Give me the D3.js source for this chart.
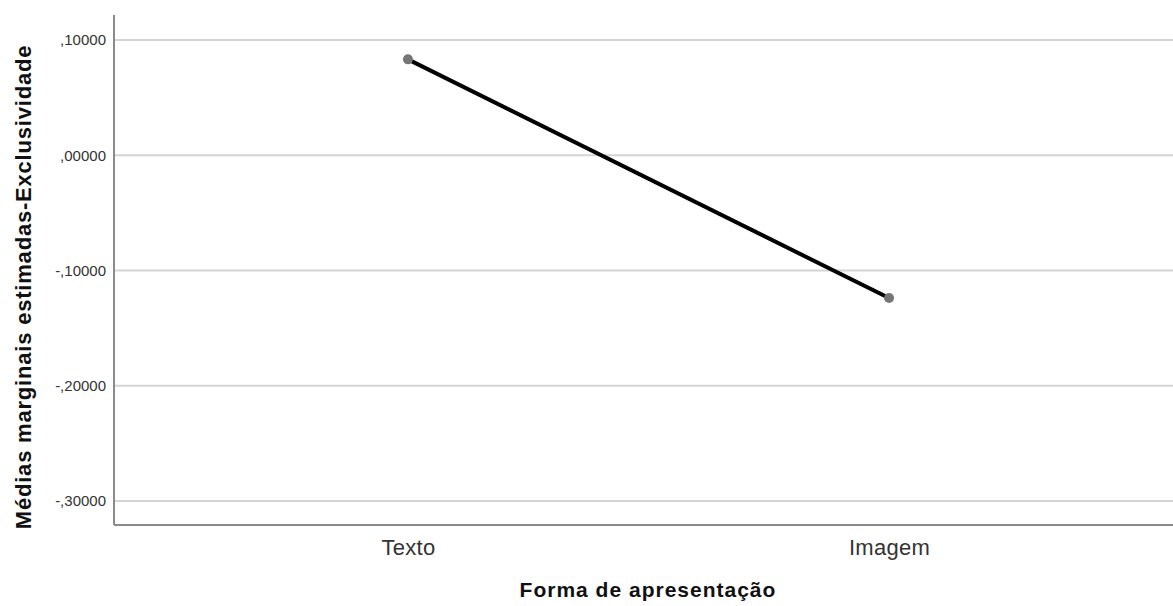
<!DOCTYPE html>
<html>
<head>
<meta charset="utf-8">
<script src="https://cdn.jsdelivr.net/npm/d3@7"></script>
<style>
  body { margin: 0; background: #fff; }
  text { font-family: "Liberation Sans", Arial, sans-serif; }
</style>
</head>
<body>
<div id="chart"></div>
<script>
// estimated marginal means
var categories = ["Texto", "Imagem"];
var means = [0.0832, -0.1239];
var yTicks = [0.1, 0.0, -0.1, -0.2, -0.3];

var width = 1173, height = 606;
var margin = { top: 15, right: -10, bottom: 81, left: 114 };
var plotW = width - margin.left - margin.right,
    plotH = height - margin.top - margin.bottom;

var svg = d3.select("#chart").append("svg")
  .attr("width", width)
  .attr("height", height);

var g = svg.append("g")
  .attr("transform", "translate(" + margin.left + "," + margin.top + ")");

var x = d3.scalePoint()
  .domain(categories)
  .range([0, plotW])
  .padding(0.611);

var y = d3.scaleLinear()
  .domain([-0.3208, 0.1217])
  .range([plotH, 0]);

function fmt(v) {
  var s = d3.format(".5f")(Math.abs(v)).replace("0.", ",");
  return (v < -1e-9 ? "-" : "") + s;
}

// gridlines
g.selectAll(".grid")
  .data(yTicks)
  .enter().append("line")
  .attr("x1", 0)
  .attr("x2", plotW)
  .attr("y1", function(d) { return y(d); })
  .attr("y2", function(d) { return y(d); })
  .attr("stroke", "#d4d4d4")
  .attr("stroke-width", 2);

// y axis
var yAxis = d3.axisLeft(y).tickValues(yTicks).tickSize(0).tickPadding(8).tickFormat(fmt);
var ya = g.append("g").call(yAxis);
ya.select(".domain").remove();
ya.selectAll("text")
  .attr("fill", "#333")
  .style("font-size", "15px");

// x axis
var xAxis = d3.axisBottom(x).tickSize(0).tickPadding(14);
var xa = g.append("g")
  .attr("transform", "translate(0," + plotH + ")")
  .call(xAxis);
xa.select(".domain").remove();
xa.selectAll("text")
  .attr("fill", "#333")
  .style("font-size", "22px")
  .style("letter-spacing", "0.3px");

// axis lines
g.append("line")
  .attr("x1", 0).attr("x2", 0)
  .attr("y1", 0).attr("y2", plotH)
  .attr("stroke", "#8a8a8a").attr("stroke-width", 2);
g.append("line")
  .attr("x1", 0).attr("x2", plotW)
  .attr("y1", plotH).attr("y2", plotH)
  .attr("stroke", "#8a8a8a").attr("stroke-width", 2);

// line + points
var pts = categories.map(function(c, i) { return { cat: c, val: means[i] }; });

g.append("path")
  .datum(pts)
  .attr("fill", "none")
  .attr("stroke", "#000")
  .attr("stroke-width", 4)
  .attr("d", d3.line()
    .x(function(d) { return x(d.cat); })
    .y(function(d) { return y(d.val); }));

g.selectAll(".pt")
  .data(pts)
  .enter().append("circle")
  .attr("cx", function(d) { return x(d.cat); })
  .attr("cy", function(d) { return y(d.val); })
  .attr("r", 5)
  .attr("fill", "#767676");

// titles
svg.append("text")
  .attr("x", 648)
  .attr("y", 597)
  .attr("text-anchor", "middle")
  .style("font-size", "21px")
  .style("font-weight", "bold")
  .style("letter-spacing", "1px")
  .attr("fill", "#111")
  .text("Forma de apresentação");

svg.append("text")
  .attr("transform", "translate(31,287) rotate(-90)")
  .attr("text-anchor", "middle")
  .style("font-size", "22px")
  .style("font-weight", "bold")
  .style("letter-spacing", "0.8px")
  .attr("fill", "#111")
  .text("Médias marginais estimadas-Exclusividade");
</script>
</body>
</html>
